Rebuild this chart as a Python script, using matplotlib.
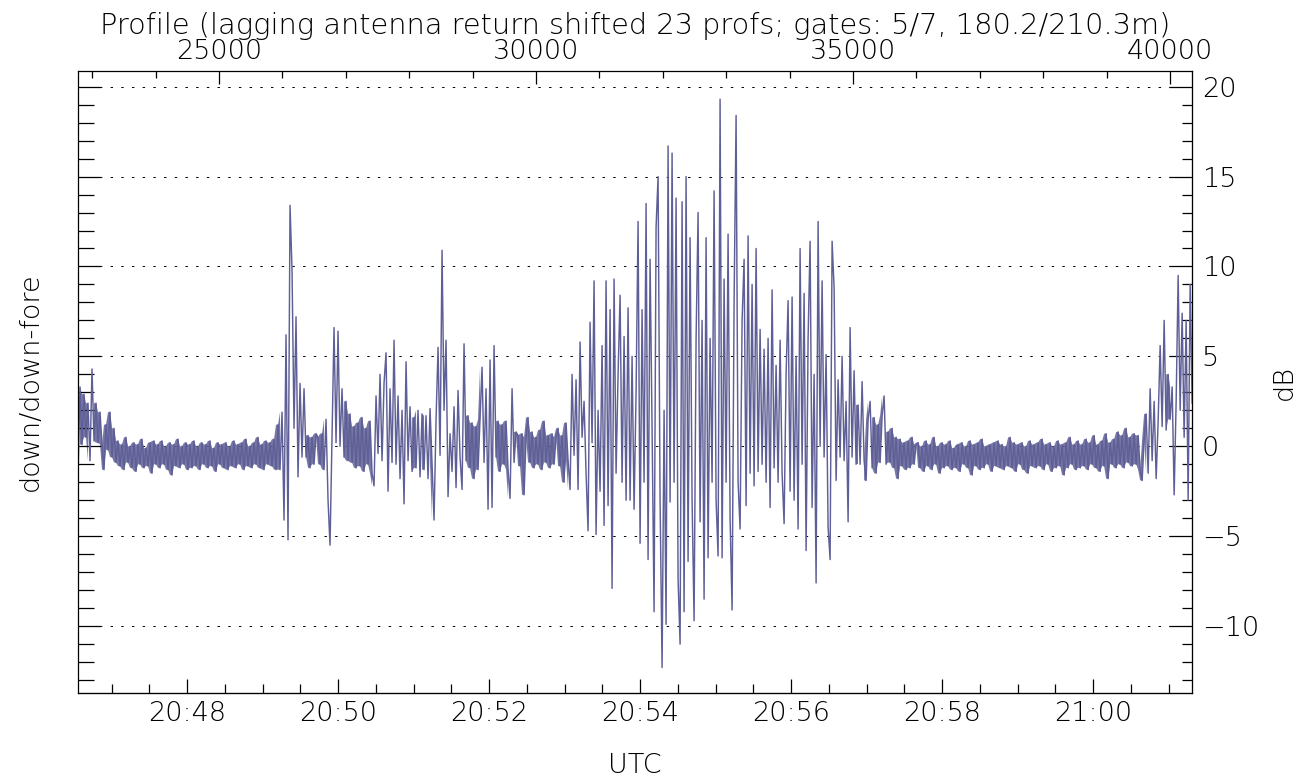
import matplotlib
matplotlib.use("Agg")
import matplotlib.pyplot as plt
from matplotlib.ticker import MultipleLocator, FuncFormatter, FixedLocator
import numpy as np

# profile sampling of the trace (profile number of first sample, spacing)
PROFILE_FIRST = 22776
PROFILE_STEP = 31.55
# profile <-> UTC seconds of day
PROFILE_REF = 25000
UTC_REF = 74905.3
PROFILES_PER_S = 19.848

title = "Profile (lagging antenna return shifted 23 profs; gates: 5/7, 180.2/210.3m)"
utc_ticks = [74880, 75000, 75120, 75240, 75360, 75480, 75600]
utc_labels = ["20:48", "20:50", "20:52", "20:54", "20:56", "20:58", "21:00"]

# down/down-fore ratio in dB left to right
quiet_start = [-1.7, 3.3, 0.1, 2.9, 0.5, 2.4, -0.8, 4.3, 0.3, 2.4, 0.2, 1.9, 0.1, -1.3, 1.2, -0.2, 1.9, -0.6, 1.0, -0.9,
               0.3, -1.1, 0.1, -1.3, 0.5, -0.9, 0.0, -1.2, 0.2, -1.4, 0.1, -1.0, 0.4, -1.2, -0.1, -1.1, 0.2, -1.5, 0.3, -1.0,
               0.1, -1.2, 0.3, -1.0, 0.0, -1.3, 0.2, -1.6, 0.1, -1.1, 0.4, -1.2, 0.0, -1.0, 0.2, -1.3, 0.1, -1.2, 0.3, -1.1,
               0.0, -1.3, 0.2, -1.0, 0.1, -1.2, 0.3, -1.1, -0.1, -1.4, 0.2, -1.0, 0.1, -1.2, 0.2, -1.3, 0.0, -1.1, 0.3, -1.2,
               0.1, -1.0, 0.2, -1.3, 0.4, -1.1, 0.0, -1.2, 0.2, -1.0, 0.5, -1.2, 0.1, -1.3, 0.3, -1.0, 0.2, -1.1, 0.4, -1.3]
spikes = [1.2, -1.3, 1.9, -4.1, 6.2, -5.2, 13.4, 9.8, 1.0, 7.2, -1.7, 3.5, -0.6, 3.2, -0.6, 0.6, -1.2, 0.5, -1.0, 0.7,
          0.5, -1.0, 0.7, -1.3, 1.5, -3.0, -5.5, 0.5, 6.6, 0.2, 6.4, 0.0, 3.2, -0.6, 2.5, -0.8, 1.8, -0.9, 1.1, -1.2,
          1.3, -1.1, 1.6, -1.4, 1.0, -1.0, 1.4, -1.5, -2.2, 2.8, -0.4, 4.0, -0.8, 3.5, 5.2, -2.5, 3.2, -0.9, 5.9, -1.0,
          2.8, -1.8, 2.0, -3.2, 4.7, -0.8, 2.2, -1.4, 1.6, -1.2, 2.0, -1.7, 1.8, -1.3, 1.7, -1.8, 2.1, -1.0, -4.1, 1.5,
          5.5, -0.5, 10.9, 2.0, 5.9, -2.8, 0.7, -1.4, 2.2, -2.3, 3.1, -0.6, -2.4, 5.7, -0.8, 1.7, -1.2, 1.3, -1.8, 1.1,
          -1.3, 1.5, 4.4, -0.9, 3.2, -3.5, 4.8, -3.4, 5.6, -0.6, 1.4, -1.4, 1.2, -1.0, 1.4, -1.3, -2.9, 3.2, -0.9, 0.8,
          0.6, -1.1, 0.7, -2.7, 0.5, 1.6, -0.9, 0.8, -1.2, 0.5, -1.0, 0.9, -1.3, 1.4, -0.9, 0.6, -1.2, 0.7, -1.0, 0.5]
burst = [1.0, -1.1, 0.6, -2.0, 1.3, -0.8, -2.4, 4.0, -0.5, 3.7, -2.4, 5.8, 0.5, 2.5, -1.5, -4.7, 6.9, 0.2, 9.2, -4.9,
         2.0, -2.5, 5.6, -4.4, 9.2, -3.3, 7.6, -7.9, 9.3, -1.5, 4.0, 8.4, -2.0, 6.1, -3.0, 7.7, -3.0, 5.0, -3.5, 3.0,
         12.5, -5.4, 7.6, -2.0, 13.5, -6.3, 10.4, 1.0, -9.2, 12.2, 15.0, -3.0, -12.3, 2.0, -9.9, 16.7, -3.1, 16.3, -2.0, 13.8,
         -7.4, -11.0, 13.6, -9.2, 15.0, -6.4, 11.6, -3.0, -9.7, 6.0, 13.0, -4.2, 7.0, -8.5, 11.6, -6.2, 6.0, -2.0, 14.2, -3.0,
         -6.1, 19.3, -6.2, 9.3, -2.0, 11.8, -4.0, -9.1, 8.0, 18.4, -2.0, -4.6, 7.0, 10.4, -3.3, 11.7, -1.5, 9.0, -2.2, 11.0,
         -1.4, 6.5, -1.0, 5.4, -2.0, 6.0, -3.4, 8.7, -1.2, 4.5, -2.0, 5.9, -1.5, -4.3, 4.0, 8.1, -2.5, 8.3, -3.0, 5.0,
         -4.6, 11.0, -1.0, 8.5, -5.8, 6.0, 11.4, -3.4, 4.0, -7.6, 12.5, 0.0, 9.2, -0.6, 5.1, -4.5, -6.3, 11.4, 8.8, -1.9,
         3.7, -0.6, 5.0, -0.8, 2.5, -4.2, 6.6, -0.6, 4.2, -1.0, 2.3, -1.0, 3.6, -0.8, -1.9, 1.5, 2.5, -1.2, 1.6, -1.5,
         1.2, -0.9, 1.7, 2.8, -1.0, 0.8, -0.9, 1.0, -1.2, 0.5, -1.8, 0.4, -1.1, 0.2, -1.3, 0.3, -1.2, 0.5, -1.0, 0.1]
quiet_end = [0.2, -1.2, 0.0, -1.4, 0.3, -1.1, 0.1, -1.3, 0.5, -1.0, 0.0, -1.5, 0.2, -1.2, 0.1, -1.1, 0.3, -1.3, -0.1, -1.2,
             0.1, -1.4, 0.2, -1.0, 0.0, -1.2, 0.3, -1.6, 0.1, -1.1, 0.2, -1.3, 0.4, -1.2, 0.0, -1.0, 0.1, -1.4, 0.2, -1.1,
             0.3, -1.2, 0.1, -1.3, 0.0, -1.1, 0.5, -1.2, 0.2, -1.4, 0.1, -1.0, 0.2, -1.3, 0.0, -1.5, 0.3, -1.1, 0.1, -1.2,
             0.2, -1.1, 0.4, -1.3, 0.1, -1.0, 0.2, -1.4, 0.0, -1.2, 0.3, -1.1, 0.1, -1.6, 0.2, -1.2, 0.5, -1.0, 0.1, -1.3,
             0.3, -1.2, 0.1, -1.1, 0.4, -1.3, 0.2, -1.0, 0.6, -1.2, 0.1, -1.4, 0.3, -1.1, 0.7, -1.8, 0.2, -1.0, 0.4, -1.2]
rise_end = [0.8, -1.0, 0.6, -1.2, 1.0, -0.9, 0.5, -1.1, 0.7, -1.0, 0.6, -1.3, -1.9, 0.4, 1.8, -1.5, 3.2, -0.8, 2.5, -1.8,
            1.4, 5.6, 1.1, 7.0, 0.9, 4.0, 1.5, 3.3, -2.7, 2.5, 9.5, 2.0, 7.4, 0.5, 7.0, -3.0, 9.0, 2.4]

db = np.array(quiet_start + spikes + burst + quiet_end + rise_end)
profiles = PROFILE_FIRST + PROFILE_STEP * np.arange(len(db))

# the real trace has many samples per pixel: shade the noise floor swept by neighbouring samples
nxt = np.r_[db[1:], db[-1]]
band_lo = np.minimum(db, nxt)
band_hi = np.maximum(db, nxt)
floor = (band_hi - band_lo) < 3.5


def prof2utc(p):
    return UTC_REF + (np.asarray(p) - PROFILE_REF) / PROFILES_PER_S


def utc2prof(t):
    return PROFILE_REF + (np.asarray(t) - UTC_REF) * PROFILES_PER_S


plt.rcParams['font.family'] = ['DejaVu Sans']
plt.rcParams['font.weight'] = 'light'
plt.rcParams['axes.labelweight'] = 'light'
FS = 19.5
LINE_COLOR = '#5f5f97'

fig = plt.figure(figsize=(13.1, 7.78), dpi=100)
ax = fig.add_axes([78 / 1310, (778 - 693) / 778, (1192 - 78) / 1310, (693 - 71) / 778])
ax.fill_between(profiles, band_lo, band_hi, where=floor, color=LINE_COLOR, alpha=0.85, lw=0)
ax.plot(profiles, db, color=LINE_COLOR, lw=1.05)
ax.set_xlim(22776, 40347)
ax.set_ylim(-13.72, 20.87)

for sp in ax.spines.values():
    sp.set_linewidth(0.9)

# dotted grid
for lvl in range(-10, 21, 5):
    ax.axhline(lvl, color='black', lw=0.7, ls=(0, (2.5, 8.5)), zorder=0)

# top: profile numbers
ax.xaxis.set_major_locator(MultipleLocator(5000))
ax.xaxis.set_minor_locator(MultipleLocator(1000))
ax.xaxis.set_major_formatter(FuncFormatter(lambda v, p: f"{int(v)}"))
ax.tick_params(axis='x', which='both', direction='in', top=True, bottom=False,
               labeltop=True, labelbottom=False, labelsize=FS, pad=5, width=0.9)
ax.tick_params(axis='x', which='major', length=9.5)
ax.tick_params(axis='x', which='minor', length=5)
ax.xaxis.set_label_position('top')
ax.set_xlabel(title, fontsize=20.8, labelpad=4)

# left: no labels
ax.yaxis.set_major_locator(MultipleLocator(5))
ax.yaxis.set_minor_locator(MultipleLocator(1))
ax.tick_params(axis='y', which='both', direction='in', left=True, right=False,
               labelleft=False, width=0.9)
ax.tick_params(axis='y', which='major', length=16.5)
ax.tick_params(axis='y', which='minor', length=11.5)
ax.set_ylabel('down/down-fore', fontsize=FS, labelpad=25)

# bottom: UTC
sx = ax.secondary_xaxis('bottom', functions=(prof2utc, utc2prof))
sx.set_xticks(utc_ticks, utc_labels)
sx.xaxis.set_minor_locator(FixedLocator(np.arange(74820, 75661, 30)))
sx.tick_params(axis='x', which='both', direction='in', labelsize=FS, pad=6, width=0.9)
sx.tick_params(axis='x', which='major', length=10)
sx.tick_params(axis='x', which='minor', length=6.5)
sx.set_xlabel('UTC', fontsize=FS, labelpad=19)

# right: dB
sy = ax.secondary_yaxis('right')
sy.spines['right'].set_color('#888888')
sy.yaxis.set_major_locator(MultipleLocator(5))
sy.yaxis.set_minor_locator(MultipleLocator(1))
sy.tick_params(axis='y', which='both', direction='in', labelsize=FS, pad=7, width=0.9)
sy.tick_params(axis='y', which='major', length=16.5)
sy.tick_params(axis='y', which='minor', length=7)
sy.set_ylabel('dB', fontsize=FS, labelpad=9)

fig.savefig('out.png', dpi=100)
